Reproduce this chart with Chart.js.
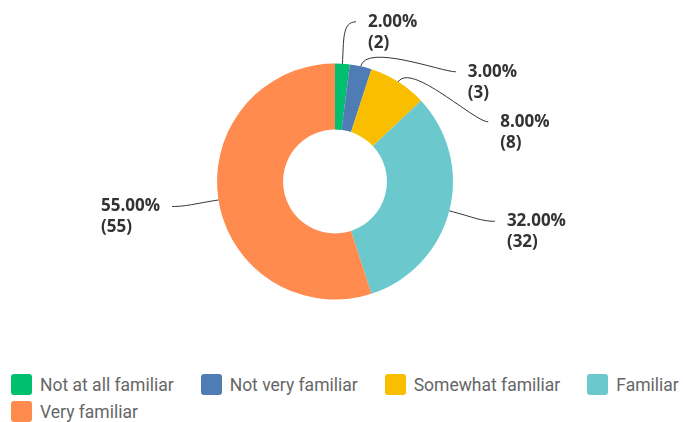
<!DOCTYPE html>
<html>
<head>
<meta charset="utf-8">
<script src="https://cdn.jsdelivr.net/npm/chart.js@4.4.1/dist/chart.umd.min.js"></script>
<style>
  body { margin: 0; background: #fff; }
  #wrap { position: relative; width: 684px; height: 362px; }
  #legend {
    display: flex; flex-wrap: wrap; width: 673px; padding: 12px 0 0 11px;
    column-gap: 27px; row-gap: 6px;
    font-family: Roboto, sans-serif; font-size: 17.5px; color: #666;
  }
  .item { display: flex; align-items: center; height: 21px; }
  .box { width: 21px; height: 21px; border-radius: 3px; margin-right: 8px; }
</style>
</head>
<body>
<div id="wrap"><canvas id="chart" width="684" height="362"></canvas></div>
<div id="legend"></div>
<script>
const categories = ['Not at all familiar', 'Not very familiar', 'Somewhat familiar', 'Familiar', 'Very familiar'];
const counts = [2, 3, 8, 32, 55];
const colors = ['#00BF6F', '#507CB6', '#F9BE00', '#6BC8CD', '#FF8B4F'];

const total = counts.reduce((a, b) => a + b, 0);

// labels outside the ring with curved leader lines
const outsideLabels = {
  id: 'outsideLabels',
  afterDatasetsDraw(chart) {
    const ctx = chart.ctx;
    const arcs = chart.getDatasetMeta(0).data;
    const items = arcs.map((arc, i) => {
      const p = arc.getProps(['x', 'y', 'startAngle', 'endAngle', 'outerRadius'], true);
      const mid = (p.startAngle + p.endAngle) / 2;
      const ux = Math.cos(mid), uy = Math.sin(mid);
      const r = p.outerRadius;
      return {
        i, cx: p.x, cy: p.y, r, ux, uy,
        side: ux >= 0 ? 1 : -1,
        y: p.y + (r + 42) * uy
      };
    });

    // keep labels on the same side apart
    [1, -1].forEach(side => {
      const list = items.filter(d => d.side === side).sort((a, b) => a.y - b.y);
      for (let k = 1; k < list.length; k++) {
        if (list[k].y < list[k - 1].y + 50) list[k].y = list[k - 1].y + 50;
      }
    });

    ctx.save();
    items.forEach(d => {
      const a = d.r + 47, b = d.r + 43;
      const t = (d.y - d.cy) / b;
      const ax = d.cx + d.side * a * Math.sqrt(Math.max(0, 1 - t * t));
      const ay = d.y;
      const x0 = d.cx + d.ux * d.r, y0 = d.cy + d.uy * d.r;

      ctx.beginPath();
      ctx.moveTo(x0, y0);
      ctx.bezierCurveTo(x0 + d.ux * 24, y0 + d.uy * 24, ax - d.side * 14, ay, ax, ay);
      ctx.strokeStyle = '#333';
      ctx.lineWidth = 1;
      ctx.stroke();

      const line1 = (counts[d.i] / total * 100).toFixed(2) + '%';
      const line2 = '(' + counts[d.i] + ')';
      ctx.fillStyle = '#333';
      ctx.font = 'bold 17px "Open Sans", sans-serif';
      ctx.textBaseline = 'middle';
      ctx.textAlign = 'left';
      let tx = ax + 12;
      if (d.side < 0) {
        const w = Math.max(ctx.measureText(line1).width, ctx.measureText(line2).width);
        tx = ax - 12 - w;
      }
      ctx.fillText(line1, tx, ay);
      ctx.fillText(line2, tx, ay + 21);
    });
    ctx.restore();
  }
};

new Chart(document.getElementById('chart'), {
  type: 'doughnut',
  data: {
    labels: categories,
    datasets: [{
      data: counts,
      backgroundColor: colors,
      borderWidth: 0
    }]
  },
  options: {
    responsive: false,
    animation: false,
    cutout: '44%',
    layout: { padding: { top: 63.5, bottom: 62.5, left: 0, right: 14 } },
    plugins: {
      legend: { display: false },
      tooltip: { enabled: false }
    }
  },
  plugins: [outsideLabels]
});

// legend
const legend = document.getElementById('legend');
categories.forEach((name, i) => {
  const item = document.createElement('div');
  item.className = 'item';
  const box = document.createElement('span');
  box.className = 'box';
  box.style.background = colors[i];
  const txt = document.createElement('span');
  txt.textContent = name;
  item.appendChild(box);
  item.appendChild(txt);
  legend.appendChild(item);
});
</script>
</body>
</html>
